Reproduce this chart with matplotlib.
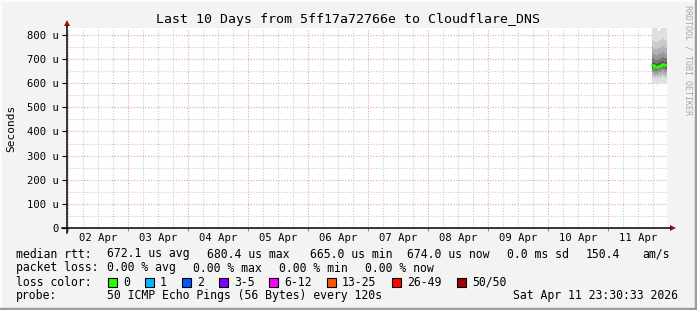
import numpy as np
import matplotlib
matplotlib.use('Agg')
import matplotlib.pyplot as plt
from matplotlib.patches import Rectangle

# ---- data -------------------------------------------------------------
day_labels = ['02 Apr', '03 Apr', '04 Apr', '05 Apr', '06 Apr',
              '07 Apr', '08 Apr', '09 Apr', '10 Apr', '11 Apr']
y_ticks = [0, 100, 200, 300, 400, 500, 600, 700, 800]
y_tick_labels = ['0', '100 u', '200 u', '300 u', '400 u', '500 u', '600 u', '700 u', '800 u']

# sample columns on 11 Apr (hour of day), values in microseconds
hours_apr11 = [17.6, 18.0, 18.4, 18.8, 19.2, 19.6, 20.0, 20.4, 20.8, 21.2, 21.6, 22.0, 22.4, 22.8, 23.2]
median_us = [676, 675, 669, 667, 666, 668, 670, 670, 672, 674, 680, 679, 676, 674, 674]
ping_min = [598, 602, 595, 600, 603, 590, 600, 605, 598, 601, 604, 600, 602, 599, 603]
ping_p10 = [622, 625, 620, 621, 624, 618, 623, 626, 622, 625, 628, 624, 625, 622, 626]
ping_p17 = [634, 636, 631, 631, 633, 629, 634, 636, 634, 636, 640, 637, 636, 634, 636]
ping_p25 = [646, 648, 642, 641, 643, 640, 645, 647, 646, 648, 652, 650, 648, 646, 647]
ping_p33 = [655, 656, 651, 649, 650, 649, 653, 655, 655, 657, 661, 660, 657, 655, 656]
ping_p40 = [664, 664, 659, 657, 657, 658, 661, 662, 663, 665, 670, 669, 666, 664, 664]
ping_p60 = [690, 689, 684, 682, 681, 683, 685, 686, 688, 690, 695, 694, 690, 689, 688]
ping_p67 = [705, 703, 699, 697, 696, 698, 700, 701, 703, 706, 710, 709, 705, 704, 703]
ping_p75 = [725, 722, 718, 716, 715, 717, 720, 721, 723, 726, 730, 728, 725, 723, 722]
ping_p83 = [750, 747, 743, 741, 740, 742, 745, 746, 748, 751, 756, 754, 750, 748, 747]
ping_p90 = [780, 776, 772, 770, 769, 772, 775, 776, 778, 781, 786, 784, 780, 778, 777]
ping_max = [900, 900, 900, 900, 900, 900, 818, 818, 900, 900, 900, 900, 900, 900, 900]

loss_labels = ['0', '1', '2', '3-5', '6-12', '13-25', '26-49', '50/50']
loss_colors = ['#26ff00', '#00b8ff', '#0059ff', '#7e00ff', '#ff00ff', '#ff5500', '#ff0000', '#a10000']

# ---- figure -----------------------------------------------------------
W, H = 697, 310
MONO = 'DejaVu Sans Mono'
fig = plt.figure(figsize=(W / 100, H / 100), dpi=100)
fig.patch.set_facecolor('#f3f3f3')


def px_rect(x0, y0, x1, y1):
    return [x0 / W, 1 - y1 / H, (x1 - x0) / W, (y1 - y0) / H]


ax = fig.add_axes(px_rect(67, 28, 667, 228))
ax.set_facecolor('white')
for s in ax.spines.values():
    s.set_visible(False)

# x in days since 02 Apr 00:00; window ends Sat Apr 11 23:30:33
x_end = 9 + (23 * 3600 + 30 * 60 + 33) / 86400
ax.set_xlim(x_end - 10, x_end)
ax.set_ylim(0, 829)

ax.set_xticks(np.arange(0, 10))
ax.set_xticks(np.arange(0.25, 10, 0.25), minor=True)
ax.set_yticks(y_ticks)
ax.set_yticklabels(y_tick_labels, fontfamily=MONO, fontsize=7.6)
ax.set_yticks(np.arange(50, 830, 100), minor=True)
ax.tick_params(axis='x', which='major', length=2.5, color='#d07070', labelbottom=False)
ax.tick_params(axis='x', which='minor', length=0)
ax.tick_params(axis='y', which='major', length=3.6, width=0.8, color='black', pad=2)
ax.tick_params(axis='y', which='minor', length=0)
ax.set_axisbelow(True)
ax.grid(which='major', color='#e9a3a3', linestyle=(0, (1, 1.5)), linewidth=0.8)
ax.grid(which='minor', color='#cdcdcd', linestyle=(0, (1, 1.5)), linewidth=0.8)

for i, lab in enumerate(day_labels):
    ax.text(i + 0.5, -0.05, lab, transform=ax.get_xaxis_transform(),
            ha='center', va='center', fontfamily=MONO, fontsize=7.6)

# smoke
t = [9 + h / 24 for h in hours_apr11]
edges = t + [t[-1] + 0.4 / 24]


def ext(v):
    return list(v) + [v[-1]]


layers = [(ping_min, ping_max, '#e0e0e0'),
          (ping_p10, ping_p90, '#cacaca'),
          (ping_p17, ping_p83, '#b2b2b2'),
          (ping_p25, ping_p75, '#989898'),
          (ping_p33, ping_p67, '#7a7a7a'),
          (ping_p40, ping_p60, '#5a5a5a')]
for lo, hi, col in layers:
    ax.fill_between(edges, ext(lo), ext(hi), step='post', color=col, linewidth=0, zorder=2)
ax.step(edges, ext(median_us), where='post', color='#26ff00', linewidth=1.8, zorder=3)

# ---- overlay for decorations/text in pixel coords ----------------------
ov = fig.add_axes([0, 0, 1, 1], zorder=5)
ov.set_xlim(0, W)
ov.set_ylim(H, 0)
ov.axis('off')
ov.patch.set_alpha(0)

# frame shading
ov.plot([0, W], [0.8, 0.8], color='#fcfcfc', lw=1.5)
ov.plot([0.8, 0.8], [0, H], color='#fcfcfc', lw=1.5)
ov.plot([W - 1.5, W - 1.5], [0, H], color='#9c9c9c', lw=2.5)
ov.plot([0, W], [H - 1.5, H - 1.5], color='#9c9c9c', lw=2.5)

# axes with arrows
ov.plot([62, 670], [228, 228], color='black', lw=1.1)
ov.plot([67, 67], [233, 26], color='black', lw=1.1)
ov.fill([64, 70, 67], [26, 26, 20], color='#a01010', lw=0)
ov.fill([670, 670, 676], [225, 231, 228], color='#a01010', lw=0)

ov.text(348, 19, 'Last 10 Days from 5ff17a72766e to Cloudflare_DNS',
        ha='center', va='center', fontfamily=MONO, fontsize=9.5)
ov.text(11, 128, 'Seconds', rotation=90, ha='center', va='center',
        fontfamily=MONO, fontsize=8)
ov.text(688, 60, 'RRDTOOL / TOBI OETIKER', rotation=-90, ha='center', va='center',
        fontfamily=MONO, fontsize=6, color='#a8a8a8')

fs = 8.3
rows = [
    (254, [(16, 'median rtt:'), (107, '672.1 us avg'), (207, '680.4 us max'),
           (310, '665.0 us min'), (407, '674.0 us now'), (507, '0.0 ms sd'),
           (586, '150.4'), (642, 'am/s')]),
    (268, [(16, 'packet loss:'), (107, '0.00 % avg'), (193, '0.00 % max'),
           (279, '0.00 % min'), (365, '0.00 % now')]),
    (282, [(16, 'loss color:')]),
    (296, [(16, 'probe:'), (107, '50 ICMP Echo Pings (56 Bytes) every 120s'),
           (513, 'Sat Apr 11 23:30:33 2026')]),
]
for y, items in rows:
    for x, s in items:
        ov.text(x, y, s, ha='left', va='center', fontfamily=MONO, fontsize=fs)

box_x = [108, 145, 182, 219, 269, 327, 392, 457]
for bx, lab, col in zip(box_x, loss_labels, loss_colors):
    ov.add_patch(Rectangle((bx, 277.5), 9, 9, facecolor=col, edgecolor='black', lw=0.8))
    ov.text(bx + 15, 282, lab, ha='left', va='center', fontfamily=MONO, fontsize=fs)

fig.savefig('out.png', dpi=100, facecolor=fig.get_facecolor())
